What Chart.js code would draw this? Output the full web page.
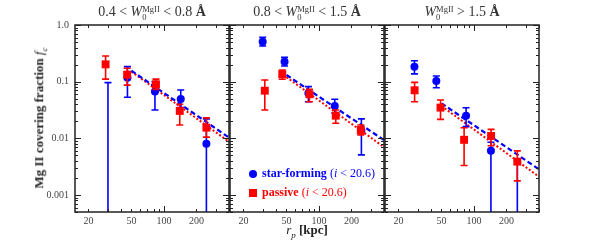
<!DOCTYPE html>
<html>
<head>
<meta charset="utf-8">
<script src="https://cdn.jsdelivr.net/npm/chart.js@4/dist/chart.umd.min.js"></script>
<style>
  body { margin: 0; background: #fff; }
  #wrap { position: relative; width: 600px; height: 250px; font-family: "Liberation Serif", "DejaVu Serif", serif; }
  #wrap canvas { position: absolute; left: 0; top: 0; }
  .title { position: absolute; top: 4px; width: 154px; text-align: center; font-size: 14px; color: #333; white-space: nowrap; }
  .ss { display: inline-block; vertical-align: -4px; font-size: 8.5px; line-height: 8.5px; text-align: left; }
  .ss span { display: block; }
  .ylab { position: absolute; left: 40px; top: 118px; transform: translate(-50%, -50%) rotate(-90deg); font-size: 13px; font-weight: bold; color: #222; white-space: nowrap; }
  .xlab { position: absolute; left: 307px; top: 231px; transform: translate(-50%, -50%); font-size: 13px; color: #222; white-space: nowrap; }
  .leg { position: absolute; left: 262px; font-size: 12px; white-space: nowrap; }
  .mk { position: absolute; }
</style>
</head>
<body>
<div id="wrap">
  <canvas id="p0" width="600" height="250"></canvas>
  <canvas id="p1" width="600" height="250"></canvas>
  <canvas id="p2" width="600" height="250"></canvas>

  <div class="title" style="left:75px">0.4 &lt; <i>W</i><span class="ss"><span>MgII</span><span>0</span></span> &lt; 0.8 <b>Å</b></div>
  <div class="title" style="left:230px">0.8 &lt; <i>W</i><span class="ss"><span>MgII</span><span>0</span></span> &lt; 1.5 <b>Å</b></div>
  <div class="title" style="left:385px"><i>W</i><span class="ss"><span>MgII</span><span>0</span></span> &gt; 1.5 <b>Å</b></div>

  <div class="ylab">Mg II covering fraction <i style="font-weight:normal">f</i><sub style="font-weight:normal;font-style:italic;font-size:9px">c</sub></div>
  <div class="xlab"><i>r</i><sub style="font-style:italic;font-size:9px">p</sub> <b>[kpc]</b></div>

  <div class="mk" style="left:249px;top:170px;width:8px;height:8px;border-radius:50%;background:#0000ff"></div>
  <div class="leg" style="top:166px;color:#0000ff"><b>star-forming</b> (<i>i</i> &lt; 20.6)</div>
  <div class="mk" style="left:249px;top:189px;width:8px;height:8px;background:#ff0000"></div>
  <div class="leg" style="top:185px;color:#ff0000"><b>passive</b> (<i>i</i> &lt; 20.6)</div>
</div>

<script>
// ── data ──────────────────────────────────────────────
const SF_R  = [[30.3, 45.9, 82.5, 143, 247], [30.1, 48, 79.8, 140, 247], [28.1, 44.8, 84.5, 143.5, 252]];
const SF_FC = [[null, 0.117, 0.0667, 0.0494, 0.008], [0.508, 0.225, 0.0622, 0.0372, 0.0135], [0.184, 0.103, 0.0251, 0.00605, null]];
const SF_LO = [[0, 0.053, 0.0316, 0.035, 0], [0.426, 0.189, 0.0443, 0.028, 0.0051], [0.137, 0.078, 0.0161, 0, 0]];
const SF_HI = [[0.096, 0.184, 0.10, 0.0713, 0.022], [0.605, 0.268, 0.0816, 0.0488, 0.022], [0.234, 0.126, 0.0347, 0.0085, 0.004]];

const PA_R  = [[28.8, 45.6, 84.3, 140, 247], [31.5, 45.7, 81.6, 143, 244], [28.2, 49, 81, 144, 252]];
const PA_FC = [[0.202, 0.133, 0.0898, 0.0304, 0.0154], [0.0693, 0.135, 0.0598, 0.0251, 0.014], [0.0704, 0.0348, 0.0094, 0.011, 0.00387]];
const PA_LO = [[0.111, 0.087, 0.073, 0.0172, 0.0105], [0.0316, 0.110, 0.0443, 0.0184, 0.0115], [0.0443, 0.0216, 0.0033, 0.0074, 0.00177]];
const PA_HI = [[0.284, 0.172, 0.111, 0.04, 0.0229], [0.107, 0.161, 0.073, 0.0316, 0.0172], [0.097, 0.0475, 0.0154, 0.0144, 0.006]];

const FIT_R  = [50, 400];
const SF_FIT = [[0.156, 0.0103], [0.131, 0.0093], [0.0415, 0.00284]];
const PA_FIT = [[0.15, 0.0087], [0.12, 0.0070], [0.0372, 0.0021]];

const X_LABELS = [20, 50, 100, 200];
const Y_LABELS = { 1: '1.0', 0.1: '0.1', 0.01: '0.01', 0.001: '0.001' };

const BLUE = '#0000ff';
const RED = '#ff0000';
const PANEL_LEFT = [75, 230, 385];
const PANEL_W = 154;

// ── error bars, drawn just under each marker dataset ──
const errorBarPlugin = {
  id: 'errorBars',
  beforeDatasetDraw(chart, args) {
    const ds = chart.data.datasets[args.index];
    if (!ds.errLo) return;
    const { ctx, chartArea: a, scales: { x, y } } = chart;
    ctx.save();
    ctx.beginPath();
    ctx.rect(a.left, a.top, a.width, a.height);
    ctx.clip();
    ctx.strokeStyle = ds.borderColor;
    ctx.lineWidth = 1.6;
    ds.data.forEach((p, i) => {
      const px = x.getPixelForValue(p.x);
      const top = y.getPixelForValue(ds.errHi[i]);
      const bot = ds.errLo[i] > 0 ? y.getPixelForValue(ds.errLo[i]) : a.bottom + 4;
      ctx.beginPath();
      ctx.moveTo(px, top); ctx.lineTo(px, bot);
      ctx.moveTo(px - 3.5, top); ctx.lineTo(px + 3.5, top);
      if (ds.errLo[i] > 0) { ctx.moveTo(px - 3.5, bot); ctx.lineTo(px + 3.5, bot); }
      ctx.stroke();
    });
    ctx.restore();
  }
};

// ── frame with inward ticks on all four sides ─────────
const framePlugin = {
  id: 'frame',
  afterDraw(chart) {
    const { ctx, chartArea: a, scales: { x, y } } = chart;
    ctx.save();
    ctx.strokeStyle = '#222';
    ctx.lineWidth = 1;
    const seg = (x0, y0, x1, y1) => { ctx.beginPath(); ctx.moveTo(x0, y0); ctx.lineTo(x1, y1); ctx.stroke(); };
    for (let e = 1; e <= 2; e++) {
      for (let m = 1; m <= 9; m++) {
        const v = m * Math.pow(10, e);
        if (v < x.min || v > x.max) continue;
        const px = Math.round(x.getPixelForValue(v)) + 0.5;
        const len = m === 1 ? 6 : 3;
        seg(px, a.bottom, px, a.bottom - len);
        seg(px, a.top, px, a.top + len);
      }
    }
    for (let e = -4; e <= 0; e++) {
      for (let m = 1; m <= 9; m++) {
        const v = m * Math.pow(10, e);
        if (v < y.min || v > y.max) continue;
        const py = Math.round(y.getPixelForValue(v)) + 0.5;
        const len = m === 1 ? 6 : 3;
        seg(a.left, py, a.left + len, py);
        seg(a.right, py, a.right - len, py);
      }
    }
    ctx.lineWidth = 1.5;
    ctx.strokeRect(a.left, a.top, a.width, a.height);
    ctx.restore();
  }
};

function makePanel(i) {
  const left = PANEL_LEFT[i];
  const first = i === 0;
  new Chart(document.getElementById('p' + i), {
    type: 'scatter',
    plugins: [errorBarPlugin, framePlugin],
    data: {
      datasets: [
        {
          label: 'passive',
          data: PA_R[i].map((r, k) => ({ x: r, y: PA_FC[i][k] })),
          errLo: PA_LO[i], errHi: PA_HI[i],
          pointStyle: 'rect', pointRadius: 5.6, pointHoverRadius: 5.6,
          backgroundColor: RED, borderColor: RED, borderWidth: 0,
          order: 1,
        },
        {
          label: 'star-forming',
          data: SF_R[i].map((r, k) => ({ x: r, y: SF_FC[i][k] })),
          errLo: SF_LO[i], errHi: SF_HI[i],
          pointStyle: 'circle', pointRadius: 4, pointHoverRadius: 4,
          backgroundColor: BLUE, borderColor: BLUE, borderWidth: 0,
          order: 2,
        },
        {
          label: 'star-forming fit',
          data: FIT_R.map((r, k) => ({ x: r, y: SF_FIT[i][k] })),
          showLine: true, pointRadius: 0,
          borderColor: BLUE, borderWidth: 2.2, borderDash: [5, 3],
          order: 3,
        },
        {
          label: 'passive fit',
          data: FIT_R.map((r, k) => ({ x: r, y: PA_FIT[i][k] })),
          showLine: true, pointRadius: 0,
          borderColor: RED, borderWidth: 2, borderDash: [2, 2],
          order: 4,
        },
      ]
    },
    options: {
      responsive: false,
      animation: false,
      events: [],
      layout: { padding: { left: 0, right: 600 - left - PANEL_W, top: 25, bottom: 0 } },
      plugins: { legend: { display: false }, tooltip: { enabled: false } },
      scales: {
        x: {
          type: 'logarithmic',
          min: 15, max: 400,
          grid: { display: false, drawTicks: false, tickLength: 0 },
          border: { display: false },
          afterBuildTicks: s => { s.ticks = X_LABELS.map(v => ({ value: v })); },
          afterFit: s => { s.height = 38; },
          ticks: {
            autoSkip: false, maxRotation: 0, padding: 3,
            font: { family: 'Liberation Serif', size: 10 }, color: '#444',
            callback: v => String(v),
          },
        },
        y: {
          type: 'logarithmic',
          min: 0.0005, max: 1,
          grid: { display: false, drawTicks: false, tickLength: 0 },
          border: { display: false },
          afterBuildTicks: s => { s.ticks = Object.keys(Y_LABELS).map(v => ({ value: +v })); },
          afterFit: s => { s.width = left; },
          ticks: {
            display: first,
            autoSkip: false, padding: 6,
            font: { family: 'Liberation Serif', size: 10 }, color: '#444',
            callback: v => Y_LABELS[v],
          },
        },
      }
    }
  });
}

window.addEventListener('DOMContentLoaded', () => {
  [0, 1, 2].forEach(makePanel);
});
</script>
</body>
</html>
